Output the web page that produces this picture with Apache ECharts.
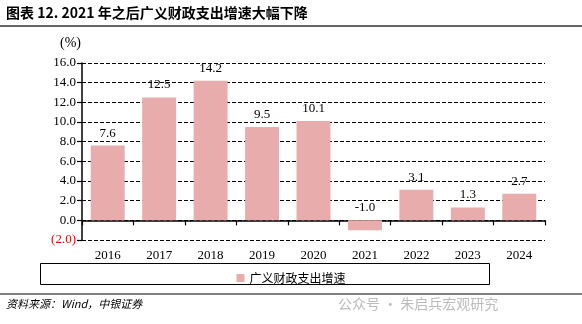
<!DOCTYPE html>
<html><head><meta charset="utf-8">
<script src="https://cdn.jsdelivr.net/npm/echarts@6/dist/echarts.min.js"></script>
<style>html,body{margin:0;padding:0;background:#fff}#c{width:582px;height:324px}</style>
</head><body><div id="c"></div>
<script>
const categories = ['2016','2017','2018','2019','2020','2021','2022','2023','2024'];
const growth = [7.6, 12.5, 14.2, 9.5, 10.1, -1.0, 3.1, 1.3, 2.7];
const seriesName = '广义财政支出增速';
const titleText = '图表 12. 2021 年之后广义财政支出增速大幅下降';
const sourceText = '资料来源：Wind，中银证券';
const watermark = '公众号 · 朱启兵宏观研究';

const serif = '"Liberation Serif","Times New Roman",serif';
const cjk = '"Noto Sans CJK SC","Noto Sans",sans-serif';
const chart = echarts.init(document.getElementById('c'));
chart.setOption({
  animation: false,
  backgroundColor: '#fff',
  grid: {left: 82, top: 63, right: 37, bottom: 84, containLabel: false},
  xAxis: [{
    type: 'category', data: categories, position: 'bottom',
    axisLine: {show: false, onZero: false}, axisTick: {show: false},
    axisLabel: {color: '#000', fontFamily: serif, fontSize: 13, margin: 9}
  }, {
    type: 'category', data: categories, position: 'bottom',
    axisLine: {show: true, onZero: true, lineStyle: {color: '#000', width: 1.5}},
    axisTick: {show: true, length: 5, lineStyle: {color: '#000', width: 1.2}},
    axisLabel: {show: false}
  }],
  yAxis: {
    type: 'value', min: -2, max: 16, interval: 2,
    axisLine: {show: true, lineStyle: {color: '#000', width: 1.5}},
    axisTick: {show: true, length: 5, lineStyle: {color: '#000', width: 1.2}},
    splitLine: {show: true, lineStyle: {color: '#000', type: [4, 2], width: 1}},
    axisLabel: {
      fontFamily: serif, fontSize: 13, margin: 6,
      formatter: v => v < 0 ? '{n|(' + Math.abs(v).toFixed(1) + ')}' : v.toFixed(1),
      color: '#000',
      rich: {n: {color: '#ff0000', fontFamily: serif, fontSize: 13}}
    }
  },
  legend: {
    data: [seriesName], left: 'center', top: 267, itemWidth: 8, itemHeight: 8,
    icon: 'rect', itemGap: 10,
    textStyle: {fontFamily: cjk, fontSize: 12, color: '#000'}
  },
  series: [{
    name: seriesName, type: 'bar', data: growth, xAxisIndex: 0,
    barCategoryGap: '34%',
    itemStyle: {color: '#E8ACAC'},
    label: {show: true, position: 'top', distance: 6, color: '#000',
      fontFamily: serif, fontSize: 13, formatter: p => p.value.toFixed(1)}
  }],
  graphic: [
    {type: 'text', left: 6, top: 6, style: {text: titleText, font: 'bold 14px ' + cjk, fill: '#000'}},
    {type: 'rect', shape: {x: 0, y: 25, width: 582, height: 2}, style: {fill: '#666'}},
    {type: 'text', left: 60, top: 36, style: {text: '(%)', font: '14px ' + serif, fill: '#000'}},
    {type: 'rect', shape: {x: 40.5, y: 263.5, width: 449, height: 21}, style: {fill: 'none', stroke: '#000', lineWidth: 1}},
    {type: 'rect', shape: {x: 0, y: 293.5, width: 582, height: 1}, style: {fill: '#000'}},
    {type: 'text', left: 6, top: 298, style: {text: sourceText, font: 'italic 11px ' + cjk, fill: '#000'}},
    {type: 'text', left: 338, top: 297, style: {text: watermark, font: '14px ' + cjk, fill: '#bbb'}}
  ]
});
</script></body></html>
